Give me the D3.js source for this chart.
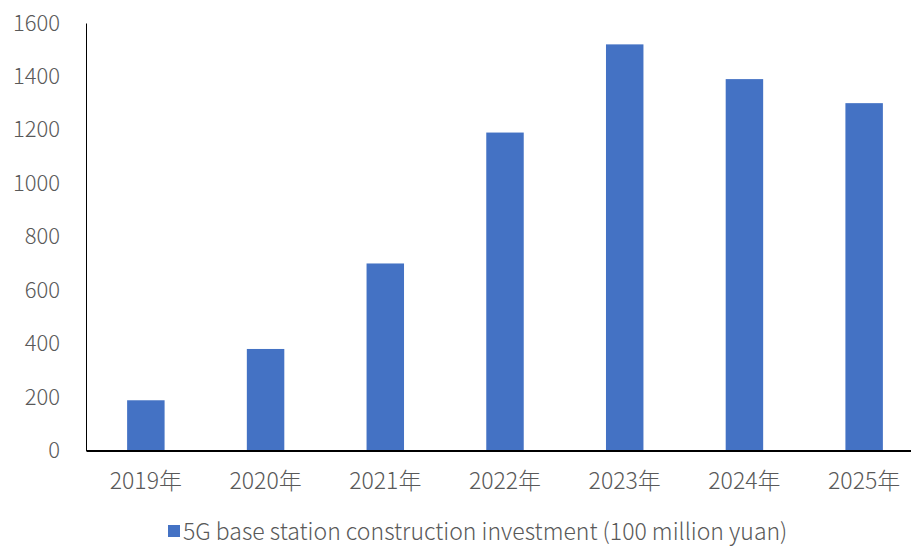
<!DOCTYPE html>
<html>
<head>
<meta charset="utf-8">
<script src="https://cdn.jsdelivr.net/npm/d3@7"></script>
<style>
  body { margin: 0; background: #fff; }
  svg { display: block; overflow: hidden; }
  text { font-family: "Noto Sans CJK SC", "Noto Sans", sans-serif; font-weight: 300; fill: #595959; }
</style>
</head>
<body>
<svg id="chart"></svg>
<script>
// data
var years = ["2019年", "2020年", "2021年", "2022年", "2023年", "2024年", "2025年"];
var investment = [188, 380, 700, 1190, 1520, 1390, 1300];
var yTicks = [0, 200, 400, 600, 800, 1000, 1200, 1400, 1600];
var seriesName = "5G base station construction investment (100 million yuan)";

var width = 911, height = 546;
var barColor = "#4472C4";

var svg = d3.select("#chart")
    .attr("width", width)
    .attr("height", height);

var x = d3.scaleBand()
    .domain(years)
    .range([86, 924])
    .paddingInner(0.687)
    .paddingOuter(0.3435);

var y = d3.scaleLinear()
    .domain([0, 1600])
    .range([450.5, 23]);

// bars
svg.append("g")
    .selectAll("rect")
    .data(investment)
    .enter()
    .append("rect")
    .attr("x", function (d, i) { return x(years[i]); })
    .attr("y", function (d) { return y(d); })
    .attr("width", x.bandwidth())
    .attr("height", function (d) { return y(0) - y(d); })
    .attr("fill", barColor);

// y axis
var yAxis = svg.append("g")
    .attr("transform", "translate(86,0)")
    .call(d3.axisLeft(y).tickValues(yTicks).tickFormat(d3.format("d")).tickSize(0).tickPadding(26));
yAxis.select(".domain").attr("stroke", "#000").attr("stroke-width", 1);
yAxis.selectAll("text")
    .attr("font-size", 22)
    .attr("font-family", null)
    .attr("fill", "#595959");

// x axis
var xAxis = svg.append("g")
    .attr("transform", "translate(0," + y(0) + ")")
    .call(d3.axisBottom(x).tickSize(0).tickPadding(0));
xAxis.select(".domain").attr("stroke", "#000").attr("stroke-width", 2);
xAxis.selectAll("text")
    .attr("font-size", 23)
    .attr("font-family", null)
    .attr("fill", "#595959")
    .attr("dy", null)
    .attr("y", 38);

// legend
var legend = svg.append("g").attr("transform", "translate(168,525)");
legend.append("rect")
    .attr("width", 12)
    .attr("height", 12)
    .attr("fill", barColor);
legend.append("text")
    .attr("x", 15)
    .attr("y", 15)
    .attr("font-size", 23)
    .text(seriesName);
</script>
</body>
</html>
